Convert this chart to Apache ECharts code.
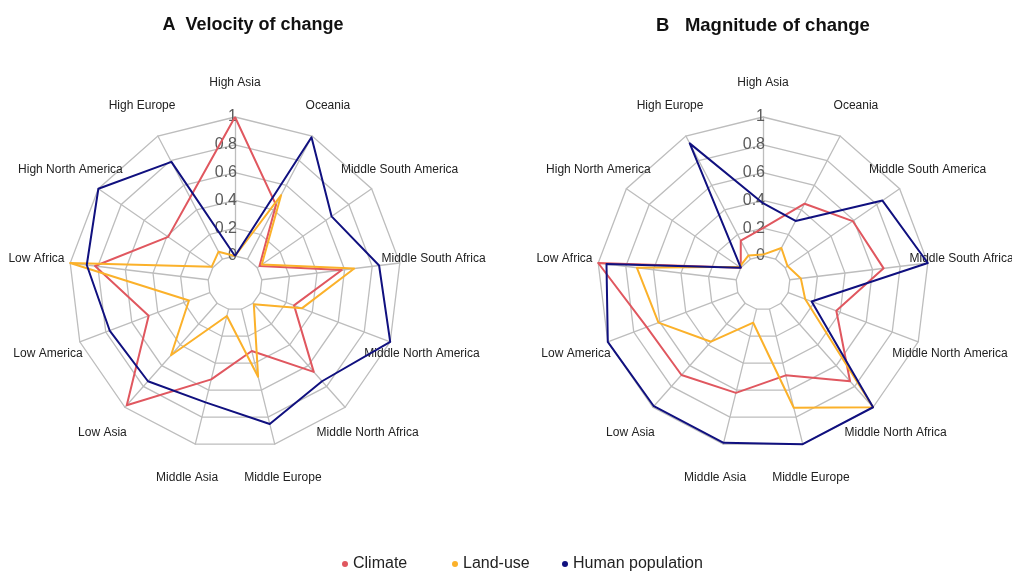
<!DOCTYPE html>
<html>
<head>
<meta charset="utf-8">
<script src="https://cdn.jsdelivr.net/npm/echarts@6/dist/echarts.min.js"></script>
<style>
  html, body { margin: 0; padding: 0; background: #fff; }
  #chart { width: 1012px; height: 571px; }
</style>
</head>
<body>
<div id="chart"></div>
<script>
// regions, clockwise from the top
var regions = ['High Asia', 'Oceania', 'Middle South America', 'Middle South Africa',
	'Middle North America', 'Middle North Africa', 'Middle Europe', 'Middle Asia',
	'Low Asia', 'Low America', 'Low Africa', 'High North America', 'High Europe'];
var seriesNames = ['Climate', 'Land-use', 'Human population'];
var tickLabels = ['0', '0.2', '0.4', '0.6', '0.8', '1'];

// A - velocity of change
var velClimate = [1, 0.44, 0.02, 0.58, 0.26, 0.66, 0.31, 0.52, 0.98, 0.47, 0.82, 0.39, 0.5];
var velLanduse = [0, 0.52, 0.04, 0.67, 0.32, 0.01, 0.5, 0.05, 0.5, 0.16, 1, 0.01, 0.06];
var velHuman = [0, 0.99, 0.65, 0.85, 1, 0.75, 0.85, 0.69, 0.75, 0.77, 0.88, 1, 0.79];

// B - magnitude of change
var magClimate = [0.2, 0.45, 0.59, 0.68, 0.37, 0.75, 0.49, 0.62, 0.69, 0.7, 1, 0, 0.15];
var magLanduse = [0.01, 0.09, 0.02, 0.08, 0.13, 1, 0.73, 0.1, 0.37, 0.61, 0.72, 0.01, 0.03];
var magHuman = [0.38, 0.31, 0.85, 1, 0.18, 1, 1, 0.99, 0.99, 1, 0.94, 0, 0.94];

var colors = ['#e0575f', '#fbb12a', '#10107f'];

var chart = echarts.init(document.getElementById('chart'));

// echarts lays indicators out counter-clockwise, so reverse after the first one
function ccw(arr) {
	return [arr[0]].concat(arr.slice(1).reverse());
}

function makeRadar(cx) {
	var names = ccw(regions);
	var indicator = names.map(function(n, i) {
		var ind = { name: n, min: 0, max: 1 };
		if (i === 0) {
			ind.axisLabel = {
				show: true,
				color: '#5a5a5a',
				fontSize: 16,
				margin: -2,
				formatter: function(v) {
					return tickLabels[Math.round(v * 5)];
				}
			};
		}
		return ind;
	});
	return {
		center: [cx, 283],
		radius: [27, 166],
		startAngle: 90,
		splitNumber: 5,
		shape: 'polygon',
		indicator: indicator,
		axisNameGap: 34,
		axisName: {
			color: '#222',
			fontSize: 12,
			fontFamily: 'Liberation Sans',
			align: 'center',
			verticalAlign: 'middle'
		},
		axisLine: { lineStyle: { color: '#bdbdbd', width: 1.3 } },
		splitLine: { lineStyle: { color: '#bdbdbd', width: 1.3 } },
		splitArea: { show: false },
		axisTick: { show: false },
		axisLabel: { show: false }
	};
}

function makeSeries(idx, data) {
	return {
		type: 'radar',
		radarIndex: idx,
		symbol: 'none',
		lineStyle: { width: 2 },
		data: data.map(function(d, i) {
			return {
				name: seriesNames[i],
				value: ccw(d),
				lineStyle: { color: colors[i], width: 2 },
				itemStyle: { color: colors[i] }
			};
		})
	};
}

// one legend per entry so the spacing can follow the original
var legendLeft = [337, 447, 557];
var legends = seriesNames.map(function(n, i) {
	return {
		top: 551,
		left: legendLeft[i],
		icon: 'circle',
		itemWidth: 6,
		itemHeight: 6,
		textStyle: { fontSize: 16, color: '#222' },
		data: [n]
	};
});

var option = {
	color: colors,
	textStyle: { fontFamily: 'Liberation Sans' },
	title: [{
		text: 'A  Velocity of change',
		left: 248,
		top: 11,
		textAlign: 'center',
		textStyle: { fontSize: 18, fontWeight: 'bold', color: '#111' }
	}, {
		text: 'B   Magnitude of change',
		left: 758,
		top: 11,
		textAlign: 'center',
		textStyle: { fontSize: 18.5, fontWeight: 'bold', color: '#111' }
	}],
	legend: legends,
	radar: [makeRadar(235), makeRadar(763)],
	series: [
		makeSeries(0, [velClimate, velLanduse, velHuman]),
		makeSeries(1, [magClimate, magLanduse, magHuman])
	]
};

chart.setOption(option);
</script>
</body>
</html>
